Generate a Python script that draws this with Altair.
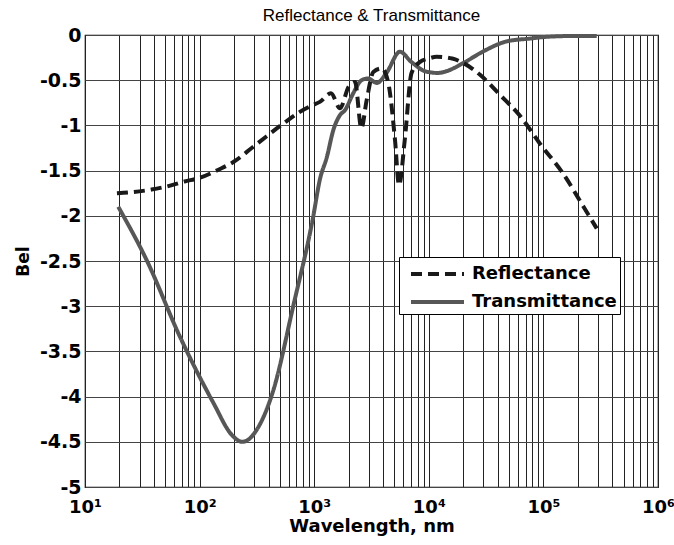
import altair as alt
import pandas as pd

# Reflectance (dashed)
refl_x = [19, 25, 38, 50, 74, 100, 146, 200, 285, 385, 550, 750, 950, 1120, 1400, 1680,
          2000, 2270, 2580, 2870, 3280, 3880, 4430, 5070, 5500, 6170, 7070, 8330, 10000,
          11700, 16000, 20000, 28000, 41600, 63000, 93000, 148000, 224000, 292000]
refl_y = [-1.75, -1.74, -1.71, -1.68, -1.62, -1.58, -1.49, -1.40, -1.25, -1.12, -0.97, -0.85,
          -0.78, -0.74, -0.645, -0.81, -0.57, -0.52, -1.03, -0.72, -0.41, -0.37, -0.53, -1.16,
          -1.66, -1.16, -0.42, -0.30, -0.26, -0.24, -0.26, -0.31, -0.44, -0.66, -0.90, -1.20,
          -1.53, -1.90, -2.14]

# Transmittance (solid)
trans_x = [19.5, 34.5, 67.5, 132, 190, 235, 270, 314, 440, 656, 980, 1120, 1290, 1470, 1680,
           1860, 2190, 2590, 2940, 3510, 4270, 5600, 7000, 9500, 12000, 14300, 20000, 30000,
           48000, 76000, 107000, 200000, 292000]
trans_y = [-1.90, -2.49, -3.34, -4.07, -4.42, -4.50, -4.47, -4.37, -3.93, -3.0, -2.01, -1.60,
           -1.35, -1.05, -0.885, -0.83, -0.645, -0.50, -0.48, -0.53, -0.42, -0.185, -0.295,
           -0.405, -0.42, -0.40, -0.31, -0.18, -0.07, -0.04, -0.02, -0.01, -0.01]

series_names = ["Reflectance", "Transmittance"]

x_major = [10, 100, 1000, 10000, 100000, 1000000]
x_major_labels = ["10¹", "10²", "10³", "10⁴", "10⁵", "10⁶"]
x_grid_values = [m * d for d in [10, 100, 1000, 10000, 100000] for m in range(1, 10)] + [1000000]
y_values = [-5, -4.5, -4, -3.5, -3, -2.5, -2, -1.5, -1, -0.5, 0]

df_r = pd.DataFrame({"x": refl_x, "y": refl_y, "series": series_names[0]})
df_t = pd.DataFrame({"x": trans_x, "y": trans_y, "series": series_names[1]})

label_expr = " : ".join(
    f"datum.value == {v} ? '{l}'" for v, l in zip(x_major, x_major_labels)
) + " : ''"

BOLD = "DejaVu Sans"

x_enc = alt.X(
    "x:Q",
    scale=alt.Scale(type="log", domain=[10, 1000000], nice=False),
    axis=alt.Axis(
        values=x_grid_values, labelExpr=label_expr, title="Wavelength, nm",
        grid=True, gridColor="#222", gridOpacity=1, gridWidth=1,
        ticks=False, domain=False, labelOverlap=False, labelFlush=False,
        labelFont="DejaVu Sans", labelFontWeight="bold",
        labelFontSize=18, labelColor="black",
        labelPadding=11, titleFont=BOLD, titleFontWeight="bold", titleFontSize=18,
        titleColor="black", titlePadding=1,
    ),
)
y_enc = alt.Y(
    "y:Q",
    scale=alt.Scale(domain=[-5, 0], nice=False),
    axis=alt.Axis(
        values=y_values,
        labelExpr="datum.value == 0 ? '0' : '-' + format(-datum.value, '')",
        title="Bel", grid=True, gridColor="#444", gridOpacity=1, gridWidth=1,
        ticks=False, domain=False, labelFont=BOLD, labelFontWeight="bold",
        labelFontSize=19, labelColor="black", labelPadding=4,
        titleFont=BOLD, titleFontWeight="bold", titleFontSize=17, titleColor="black",
        titlePadding=7,
    ),
)

legend_cfg = dict(
    title=None, orient="none", legendX=314, legendY=222,
    fillColor="white", strokeColor="black", padding=3, cornerRadius=0,
    symbolType="M-3.417,0L1,0", symbolSize=576, symbolStrokeWidth=4,
    symbolOffset=36, labelOffset=6, rowPadding=5,
    labelFont=BOLD, labelFontWeight="bold", labelFontSize=18, labelColor="black",
)

color_enc = alt.Color(
    "series:N",
    scale=alt.Scale(domain=series_names, range=["#1a1a1a", "#575757"]),
    legend=alt.Legend(**legend_cfg),
)
dash_enc = alt.StrokeDash(
    "series:N",
    scale=alt.Scale(domain=series_names, range=[[11, 6], [1, 0]]),
    legend=alt.Legend(**legend_cfg),
)

trans_line = alt.Chart(df_t).mark_line(strokeWidth=4, interpolate="monotone").encode(
    x=x_enc, y=y_enc, color=color_enc, strokeDash=dash_enc
)
refl_line = alt.Chart(df_r).mark_line(strokeWidth=4, interpolate="monotone").encode(
    x=x_enc, y=y_enc, color=color_enc, strokeDash=dash_enc
)

chart = alt.layer(trans_line, refl_line).properties(
    width=573, height=452,
    title=alt.TitleParams(
        "Reflectance & Transmittance", font="Liberation Sans", fontSize=17,
        fontWeight="normal", color="black", offset=1, anchor="middle", frame="group",
    ),
    autosize=alt.AutoSizeParams(type="none"),
    padding={"left": 85, "top": 35, "right": 16, "bottom": 58},
    background="white",
).configure_view(stroke="black", strokeWidth=1.2)

chart.save("out.html", embed_options={"renderer": "svg", "actions": False})
